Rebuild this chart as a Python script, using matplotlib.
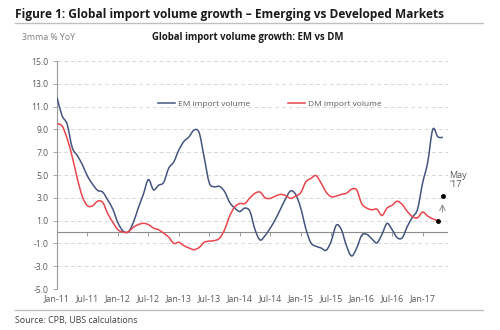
import matplotlib
matplotlib.use("Agg")
import matplotlib.pyplot as plt
from matplotlib.path import Path
from matplotlib.patches import PathPatch
from matplotlib.lines import Line2D
import numpy as np

plt.rcParams['font.family'] = ['Open Sans', 'DejaVu Sans']

# Monthly data Jan-11 .. May-17
months = np.arange(77)  # 0 = Jan-11
em = [11.8, 10.2, 9.45, 7.4, 6.7, 5.9, 4.9, 4.2, 3.65, 3.5, 2.8, 2.0,
      0.8, 0.1, 0.0, 0.8, 2.1, 3.3, 4.6, 3.7, 4.1, 4.35, 5.6, 6.15,
      7.2, 7.95, 8.35, 8.95, 8.7, 6.5, 4.3, 3.97, 4.0, 3.55, 2.6, 2.1,
      1.8, 2.1, 1.8, 0.2, -0.7, -0.3, 0.35, 1.1, 2.0, 2.9, 3.6, 3.3,
      2.1, 0.3, -0.95, -1.25, -1.4, -1.6, -0.8, 0.6, 0.2, -1.2, -2.1, -1.43,
      -0.3, -0.2, -0.6, -0.95, -0.2, 0.75, 0.2, -0.5, -0.5, 0.5, 1.3, 2.0,
      4.3, 6.1, 9.0, 8.35, 8.3]
dm = [9.5, 9.3, 8.2, 6.6, 4.7, 3.1, 2.3, 2.3, 2.7, 2.6, 1.6, 0.85,
      0.2, 0.0, 0.0, 0.4, 0.65, 0.76, 0.65, 0.35, 0.2, -0.1, -0.45, -1.0,
      -0.9, -1.2, -1.4, -1.55, -1.35, -0.9, -0.8, -0.75, -0.55, 0.2, 1.4, 2.2,
      2.5, 2.5, 3.0, 3.4, 3.5, 3.0, 2.95, 3.15, 3.3, 3.2, 2.95, 3.15,
      3.45, 4.4, 4.7, 4.95, 4.3, 3.5, 3.1, 3.15, 3.3, 3.4, 3.75, 3.7,
      2.5, 2.1, 1.95, 2.0, 1.45, 2.1, 2.35, 2.7, 2.4, 1.8, 1.35, 1.25,
      1.75, 1.4, 1.15, 1.0]
dm_may17 = 3.2
tick_labels = ['Jan-11', 'Jul-11', 'Jan-12', 'Jul-12', 'Jan-13', 'Jul-13', 'Jan-14',
               'Jul-14', 'Jan-15', 'Jul-15', 'Jan-16', 'Jul-16', 'Jan-17']
yticks = [-5.0, -3.0, -1.0, 1.0, 3.0, 5.0, 7.0, 9.0, 11.0, 13.0, 15.0]

EM_C = '#44557f'
DM_C = '#e8464d'
GRAY = '#595959'


def smooth_path(x, y):
    """Excel-style smoothed line: Catmull-Rom segments as cubic Bezier curves."""
    x = np.asarray(x, float)
    y = np.asarray(y, float)
    pts = np.column_stack([x, y])
    verts = [pts[0]]
    codes = [Path.MOVETO]
    n = len(pts)
    for i in range(n - 1):
        p0 = pts[i - 1] if i > 0 else pts[i]
        p1 = pts[i]
        p2 = pts[i + 1]
        p3 = pts[i + 2] if i + 2 < n else pts[i + 1]
        c1 = p1 + (p2 - p0) / 6.0
        c2 = p2 - (p3 - p1) / 6.0
        verts += [c1, c2, p2]
        codes += [Path.CURVE4] * 3
    return Path(verts, codes)


fig = plt.figure(figsize=(5, 3.3), dpi=100)
ax = fig.add_axes([0.114, 0.1242, 0.782, 0.6909])

ax.add_patch(PathPatch(smooth_path(months[:len(em)], em), fill=False,
                       edgecolor=EM_C, lw=1.1, zorder=3))
ax.add_patch(PathPatch(smooth_path(months[:len(dm)], dm), fill=False,
                       edgecolor=DM_C, lw=1.1, zorder=3))

ax.set_xlim(0, 77)
ax.set_ylim(-5, 15)
ax.set_yticks(yticks)
ax.set_yticklabels([f'{v:.1f}' for v in yticks], fontsize=6.2, color=GRAY)
ax.set_xticks(np.arange(0, 73, 6))
ax.set_xticklabels(tick_labels, fontsize=6.4, color=GRAY)
ax.tick_params(axis='x', length=0, pad=4)
ax.tick_params(axis='y', length=3, width=0.6, color='#999999', pad=3)

for s in ['top', 'right', 'bottom']:
    ax.spines[s].set_visible(False)
ax.spines['left'].set_color('#999999')
ax.spines['left'].set_linewidth(0.8)

ax.yaxis.grid(True, linestyle=(0, (4, 3)), color='#d9d9d9', lw=0.7)
ax.set_axisbelow(True)
ax.axhline(0, color='#8c8c8c', lw=0.8, zorder=1)

sec = ax.secondary_xaxis(0, transform=ax.transData)
sec.set_xticks(np.arange(0, 73, 6))
sec.set_xticklabels([])
sec.tick_params(length=3, width=0.6, color='#8c8c8c', direction='out')
sec.spines['bottom'].set_visible(False)

# May '17 annotation
ax.plot([len(dm) - 1], [dm[-1]], 'o', color='black', ms=2.5, zorder=5)
ax.plot([len(dm)], [dm_may17], 'o', color='black', ms=2.5, zorder=5)
ax.annotate('', xy=(len(dm) - 0.1, dm_may17 - 0.5), xytext=(len(dm) - 0.1, dm[-1] + 0.5),
            arrowprops=dict(arrowstyle='->', color='#8c8c8c', lw=0.7))
ax.text(len(dm) + 1.2, dm_may17 + 0.6, "May\n'17", fontsize=6.5, color=GRAY,
        ha='left', va='bottom', linespacing=0.9, clip_on=False)

handles = [Line2D([], [], color=EM_C, lw=1.1), Line2D([], [], color=DM_C, lw=1.1)]
leg = ax.legend(handles, ['EM import volume', 'DM import volume'],
                loc='upper left', bbox_to_anchor=(0.25, 0.845), ncol=2, frameon=False,
                fontsize=6, handlelength=2.0, handletextpad=0.4, columnspacing=4.5,
                borderaxespad=0)
for t in leg.get_texts():
    t.set_color(GRAY)

# Titles and text
fig.text(0.03, 0.955, 'Figure 1: Global import volume growth \u2013 Emerging vs Developed Markets',
         fontsize=8.55, fontweight='bold', color='#1a1a1a', ha='left', va='center')
fig.add_artist(Line2D([0.03, 0.966], [0.93, 0.93], color='#bfbfbf', lw=1.0))
fig.text(0.044, 0.885, '3mma % YoY', fontsize=6.3, color='#7f7f7f', ha='left', va='center')
fig.text(0.496, 0.885, 'Global import volume growth: EM vs DM', fontsize=6.9,
         fontweight='bold', color='#1a1a1a', ha='center', va='center')
fig.add_artist(Line2D([0.03, 0.966], [0.06, 0.06], color='#bfbfbf', lw=1.0))
fig.text(0.03, 0.03, 'Source: CPB, UBS calculations', fontsize=6.4, color='#404040',
         ha='left', va='center')

fig.savefig('out.png', dpi=100)
